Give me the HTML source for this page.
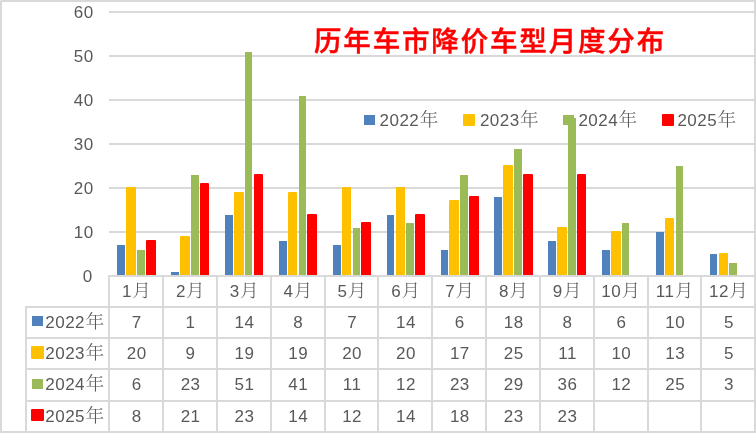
<!DOCTYPE html>
<html lang="zh-CN"><head><meta charset="utf-8"><title>历年车市降价车型月度分布</title>
<style>html,body{margin:0;padding:0;background:#fff;}body{width:756px;height:433px;overflow:hidden;}svg{display:block;}</style>
</head><body>
<svg width="756" height="433" viewBox="0 0 756 433">
<rect x="0" y="0" width="756" height="433" fill="#fff"/>
<rect x="109" y="231" width="647" height="2" fill="#D9D9D9"/>
<rect x="109" y="187" width="647" height="2" fill="#D9D9D9"/>
<rect x="109" y="143" width="647" height="2" fill="#D9D9D9"/>
<rect x="109" y="99" width="647" height="2" fill="#D9D9D9"/>
<rect x="109" y="55" width="647" height="2" fill="#D9D9D9"/>
<rect x="109" y="11" width="647" height="2" fill="#D9D9D9"/>
<rect x="117" y="245" width="8" height="31" fill="#4F81BD"/>
<rect x="127" y="188" width="8" height="88" fill="#FFC000" stroke="#FFC000" stroke-width="2" stroke-linejoin="round"/>
<rect x="137" y="250" width="8" height="26" fill="#9BBB59"/>
<rect x="147" y="241" width="8" height="35" fill="#FF0000" stroke="#FF0000" stroke-width="2" stroke-linejoin="round"/>
<rect x="171" y="272" width="8" height="4" fill="#4F81BD"/>
<rect x="181" y="237" width="8" height="39" fill="#FFC000" stroke="#FFC000" stroke-width="2" stroke-linejoin="round"/>
<rect x="191" y="175" width="8" height="101" fill="#9BBB59"/>
<rect x="201" y="184" width="7" height="92" fill="#FF0000" stroke="#FF0000" stroke-width="2" stroke-linejoin="round"/>
<rect x="225" y="215" width="8" height="61" fill="#4F81BD"/>
<rect x="235" y="193" width="8" height="83" fill="#FFC000" stroke="#FFC000" stroke-width="2" stroke-linejoin="round"/>
<rect x="245" y="52" width="7" height="224" fill="#9BBB59"/>
<rect x="255" y="175" width="7" height="101" fill="#FF0000" stroke="#FF0000" stroke-width="2" stroke-linejoin="round"/>
<rect x="279" y="241" width="8" height="35" fill="#4F81BD"/>
<rect x="289" y="193" width="7" height="83" fill="#FFC000" stroke="#FFC000" stroke-width="2" stroke-linejoin="round"/>
<rect x="299" y="96" width="7" height="180" fill="#9BBB59"/>
<rect x="308" y="215" width="8" height="61" fill="#FF0000" stroke="#FF0000" stroke-width="2" stroke-linejoin="round"/>
<rect x="333" y="245" width="8" height="31" fill="#4F81BD"/>
<rect x="343" y="188" width="7" height="88" fill="#FFC000" stroke="#FFC000" stroke-width="2" stroke-linejoin="round"/>
<rect x="353" y="228" width="7" height="48" fill="#9BBB59"/>
<rect x="362" y="223" width="8" height="53" fill="#FF0000" stroke="#FF0000" stroke-width="2" stroke-linejoin="round"/>
<rect x="387" y="215" width="7" height="61" fill="#4F81BD"/>
<rect x="397" y="188" width="7" height="88" fill="#FFC000" stroke="#FFC000" stroke-width="2" stroke-linejoin="round"/>
<rect x="406" y="223" width="8" height="53" fill="#9BBB59"/>
<rect x="416" y="215" width="8" height="61" fill="#FF0000" stroke="#FF0000" stroke-width="2" stroke-linejoin="round"/>
<rect x="441" y="250" width="7" height="26" fill="#4F81BD"/>
<rect x="450" y="201" width="8" height="75" fill="#FFC000" stroke="#FFC000" stroke-width="2" stroke-linejoin="round"/>
<rect x="460" y="175" width="8" height="101" fill="#9BBB59"/>
<rect x="470" y="197" width="8" height="79" fill="#FF0000" stroke="#FF0000" stroke-width="2" stroke-linejoin="round"/>
<rect x="494" y="197" width="8" height="79" fill="#4F81BD"/>
<rect x="504" y="166" width="8" height="110" fill="#FFC000" stroke="#FFC000" stroke-width="2" stroke-linejoin="round"/>
<rect x="514" y="149" width="8" height="127" fill="#9BBB59"/>
<rect x="524" y="175" width="8" height="101" fill="#FF0000" stroke="#FF0000" stroke-width="2" stroke-linejoin="round"/>
<rect x="548" y="241" width="8" height="35" fill="#4F81BD"/>
<rect x="558" y="228" width="8" height="48" fill="#FFC000" stroke="#FFC000" stroke-width="2" stroke-linejoin="round"/>
<rect x="568" y="118" width="8" height="158" fill="#9BBB59"/>
<rect x="578" y="175" width="7" height="101" fill="#FF0000" stroke="#FF0000" stroke-width="2" stroke-linejoin="round"/>
<rect x="602" y="250" width="8" height="26" fill="#4F81BD"/>
<rect x="612" y="232" width="8" height="44" fill="#FFC000" stroke="#FFC000" stroke-width="2" stroke-linejoin="round"/>
<rect x="622" y="223" width="7" height="53" fill="#9BBB59"/>
<rect x="656" y="232" width="8" height="44" fill="#4F81BD"/>
<rect x="666" y="219" width="7" height="57" fill="#FFC000" stroke="#FFC000" stroke-width="2" stroke-linejoin="round"/>
<rect x="676" y="166" width="7" height="110" fill="#9BBB59"/>
<rect x="710" y="254" width="7" height="22" fill="#4F81BD"/>
<rect x="720" y="254" width="7" height="22" fill="#FFC000" stroke="#FFC000" stroke-width="2" stroke-linejoin="round"/>
<rect x="729" y="263" width="8" height="13" fill="#9BBB59"/>
<rect x="0" y="276.0" width="756" height="157.0" fill="#fff"/>
<rect x="108" y="275" width="648" height="2" fill="#D9D9D9"/>
<rect x="25" y="306" width="731" height="2" fill="#D9D9D9"/>
<rect x="25" y="337" width="731" height="2" fill="#D9D9D9"/>
<rect x="25" y="368" width="731" height="2" fill="#D9D9D9"/>
<rect x="25" y="400" width="731" height="2" fill="#D9D9D9"/>
<rect x="25" y="431" width="731" height="2" fill="#D9D9D9"/>
<rect x="108" y="275" width="2" height="158" fill="#D9D9D9"/>
<rect x="162" y="275" width="2" height="158" fill="#D9D9D9"/>
<rect x="216" y="275" width="2" height="158" fill="#D9D9D9"/>
<rect x="270" y="275" width="2" height="158" fill="#D9D9D9"/>
<rect x="324" y="275" width="2" height="158" fill="#D9D9D9"/>
<rect x="377" y="275" width="2" height="158" fill="#D9D9D9"/>
<rect x="431" y="275" width="2" height="158" fill="#D9D9D9"/>
<rect x="485" y="275" width="2" height="158" fill="#D9D9D9"/>
<rect x="539" y="275" width="2" height="158" fill="#D9D9D9"/>
<rect x="593" y="275" width="2" height="158" fill="#D9D9D9"/>
<rect x="647" y="275" width="2" height="158" fill="#D9D9D9"/>
<rect x="700" y="275" width="2" height="158" fill="#D9D9D9"/>
<rect x="754" y="275" width="2" height="158" fill="#D9D9D9"/>
<rect x="25" y="306" width="2" height="127" fill="#D9D9D9"/>
<g fill="#595959" font-size="17.0" letter-spacing="0.47" font-family="Liberation Sans, sans-serif">
<text x="92.8" y="282.1" text-anchor="end">0</text>
<text x="93.7" y="238.1" text-anchor="end">10</text>
<text x="93.7" y="194.1" text-anchor="end">20</text>
<text x="93.7" y="150.1" text-anchor="end">30</text>
<text x="93.7" y="106.1" text-anchor="end">40</text>
<text x="93.7" y="62.1" text-anchor="end">50</text>
<text x="93.7" y="18.1" text-anchor="end">60</text>
<text x="136.72" y="297.4" text-anchor="middle">1<tspan dx="0.3" font-weight="300" font-family="Liberation Serif, Noto Serif CJK SC, serif" font-size="18.67">月</tspan></text>
<text x="190.57" y="297.4" text-anchor="middle">2<tspan dx="0.3" font-weight="300" font-family="Liberation Serif, Noto Serif CJK SC, serif" font-size="18.67">月</tspan></text>
<text x="244.43" y="297.4" text-anchor="middle">3<tspan dx="0.3" font-weight="300" font-family="Liberation Serif, Noto Serif CJK SC, serif" font-size="18.67">月</tspan></text>
<text x="298.27" y="297.4" text-anchor="middle">4<tspan dx="0.3" font-weight="300" font-family="Liberation Serif, Noto Serif CJK SC, serif" font-size="18.67">月</tspan></text>
<text x="352.12" y="297.4" text-anchor="middle">5<tspan dx="0.3" font-weight="300" font-family="Liberation Serif, Noto Serif CJK SC, serif" font-size="18.67">月</tspan></text>
<text x="405.98" y="297.4" text-anchor="middle">6<tspan dx="0.3" font-weight="300" font-family="Liberation Serif, Noto Serif CJK SC, serif" font-size="18.67">月</tspan></text>
<text x="459.83" y="297.4" text-anchor="middle">7<tspan dx="0.3" font-weight="300" font-family="Liberation Serif, Noto Serif CJK SC, serif" font-size="18.67">月</tspan></text>
<text x="513.67" y="297.4" text-anchor="middle">8<tspan dx="0.3" font-weight="300" font-family="Liberation Serif, Noto Serif CJK SC, serif" font-size="18.67">月</tspan></text>
<text x="567.52" y="297.4" text-anchor="middle">9<tspan dx="0.3" font-weight="300" font-family="Liberation Serif, Noto Serif CJK SC, serif" font-size="18.67">月</tspan></text>
<text x="620.97" y="297.4" text-anchor="middle">10<tspan dx="0.3" font-weight="300" font-family="Liberation Serif, Noto Serif CJK SC, serif" font-size="18.67">月</tspan></text>
<text x="674.82" y="297.4" text-anchor="middle">11<tspan dx="0.3" font-weight="300" font-family="Liberation Serif, Noto Serif CJK SC, serif" font-size="18.67">月</tspan></text>
<text x="728.67" y="297.4" text-anchor="middle">12<tspan dx="0.3" font-weight="300" font-family="Liberation Serif, Noto Serif CJK SC, serif" font-size="18.67">月</tspan></text>
<text x="136.72" y="327.8" text-anchor="middle">7</text>
<text x="190.57" y="327.8" text-anchor="middle">1</text>
<text x="244.43" y="327.8" text-anchor="middle">14</text>
<text x="298.27" y="327.8" text-anchor="middle">8</text>
<text x="352.12" y="327.8" text-anchor="middle">7</text>
<text x="405.98" y="327.8" text-anchor="middle">14</text>
<text x="459.83" y="327.8" text-anchor="middle">6</text>
<text x="513.67" y="327.8" text-anchor="middle">18</text>
<text x="567.52" y="327.8" text-anchor="middle">8</text>
<text x="621.38" y="327.8" text-anchor="middle">6</text>
<text x="675.23" y="327.8" text-anchor="middle">10</text>
<text x="729.08" y="327.8" text-anchor="middle">5</text>
<text x="45.3" y="327.8">2022<tspan dx="0.4" font-weight="300" font-family="Liberation Serif, Noto Serif CJK SC, serif" font-size="18.67">年</tspan></text>
<text x="136.72" y="358.8" text-anchor="middle">20</text>
<text x="190.57" y="358.8" text-anchor="middle">9</text>
<text x="244.43" y="358.8" text-anchor="middle">19</text>
<text x="298.27" y="358.8" text-anchor="middle">19</text>
<text x="352.12" y="358.8" text-anchor="middle">20</text>
<text x="405.98" y="358.8" text-anchor="middle">20</text>
<text x="459.83" y="358.8" text-anchor="middle">17</text>
<text x="513.67" y="358.8" text-anchor="middle">25</text>
<text x="567.52" y="358.8" text-anchor="middle">11</text>
<text x="621.38" y="358.8" text-anchor="middle">10</text>
<text x="675.23" y="358.8" text-anchor="middle">13</text>
<text x="729.08" y="358.8" text-anchor="middle">5</text>
<text x="45.3" y="358.8">2023<tspan dx="0.4" font-weight="300" font-family="Liberation Serif, Noto Serif CJK SC, serif" font-size="18.67">年</tspan></text>
<text x="136.72" y="390.3" text-anchor="middle">6</text>
<text x="190.57" y="390.3" text-anchor="middle">23</text>
<text x="244.43" y="390.3" text-anchor="middle">51</text>
<text x="298.27" y="390.3" text-anchor="middle">41</text>
<text x="352.12" y="390.3" text-anchor="middle">11</text>
<text x="405.98" y="390.3" text-anchor="middle">12</text>
<text x="459.83" y="390.3" text-anchor="middle">23</text>
<text x="513.67" y="390.3" text-anchor="middle">29</text>
<text x="567.52" y="390.3" text-anchor="middle">36</text>
<text x="621.38" y="390.3" text-anchor="middle">12</text>
<text x="675.23" y="390.3" text-anchor="middle">25</text>
<text x="729.08" y="390.3" text-anchor="middle">3</text>
<text x="45.3" y="390.3">2024<tspan dx="0.4" font-weight="300" font-family="Liberation Serif, Noto Serif CJK SC, serif" font-size="18.67">年</tspan></text>
<text x="136.72" y="421.8" text-anchor="middle">8</text>
<text x="190.57" y="421.8" text-anchor="middle">21</text>
<text x="244.43" y="421.8" text-anchor="middle">23</text>
<text x="298.27" y="421.8" text-anchor="middle">14</text>
<text x="352.12" y="421.8" text-anchor="middle">12</text>
<text x="405.98" y="421.8" text-anchor="middle">14</text>
<text x="459.83" y="421.8" text-anchor="middle">18</text>
<text x="513.67" y="421.8" text-anchor="middle">23</text>
<text x="567.52" y="421.8" text-anchor="middle">23</text>
<text x="45.3" y="421.8">2025<tspan dx="0.4" font-weight="300" font-family="Liberation Serif, Noto Serif CJK SC, serif" font-size="18.67">年</tspan></text>
<text x="379.6" y="126.3">2022<tspan dx="0.4" font-weight="300" font-family="Liberation Serif, Noto Serif CJK SC, serif" font-size="18.67">年</tspan></text>
<text x="479.9" y="126.3">2023<tspan dx="0.4" font-weight="300" font-family="Liberation Serif, Noto Serif CJK SC, serif" font-size="18.67">年</tspan></text>
<text x="578.4" y="126.3">2024<tspan dx="0.4" font-weight="300" font-family="Liberation Serif, Noto Serif CJK SC, serif" font-size="18.67">年</tspan></text>
<text x="677.4" y="126.3">2025<tspan dx="0.4" font-weight="300" font-family="Liberation Serif, Noto Serif CJK SC, serif" font-size="18.67">年</tspan></text>
</g>
<rect x="32" y="316" width="11" height="10" fill="#4F81BD"/>
<rect x="32" y="347" width="11" height="11" fill="#FFC000" stroke="#FFC000" stroke-width="2" stroke-linejoin="round"/>
<rect x="32" y="379" width="11" height="10" fill="#9BBB59"/>
<rect x="32" y="410" width="11" height="10" fill="#FF0000" stroke="#FF0000" stroke-width="2" stroke-linejoin="round"/>
<rect x="364" y="115" width="11" height="10" fill="#4F81BD"/>
<rect x="464" y="115" width="10" height="10" fill="#FFC000" stroke="#FFC000" stroke-width="2" stroke-linejoin="round"/>
<rect x="563" y="115" width="11" height="10" fill="#9BBB59"/>
<rect x="663" y="115" width="10" height="10" fill="#FF0000" stroke="#FF0000" stroke-width="2" stroke-linejoin="round"/>
<text x="490.0" y="50.9" text-anchor="middle" fill="#FF0000" font-weight="500" stroke="#FF0000" stroke-width="0.45" letter-spacing="1.83" font-size="27.5" font-family="Liberation Sans, Noto Sans CJK SC, sans-serif">历年车市降价车型月度分布</text>
<rect x="1" y="1" width="754" height="431" fill="none" stroke="#D9D9D9" stroke-width="2"/>
<rect x="0" y="0" width="1" height="1" fill="#ECECEC"/>
</svg>
</body></html>
